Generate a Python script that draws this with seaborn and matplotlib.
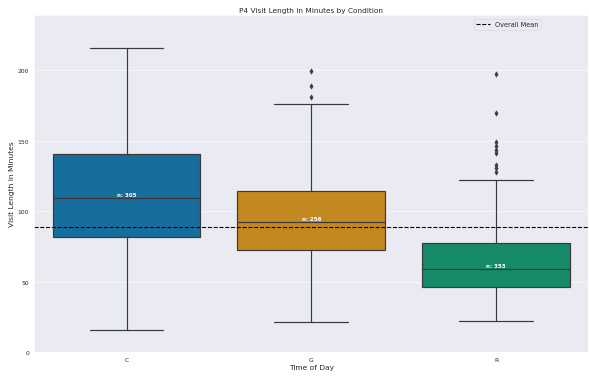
import matplotlib
matplotlib.use("Agg")
import matplotlib.pyplot as plt
import pandas as pd
import seaborn as sns

# Summary statistics of visit length (minutes) per condition
conditions = ["C", "G", "R"]
counts = [305, 256, 353]
whisker_low = [15.8, 21.3, 22.2]
q1 = [81.5, 72.7, 46.3]
medians = [109.3, 92.1, 58.8]
q3 = [140.3, 114.1, 77.2]
whisker_high = [215.6, 175.9, 122.3]
outliers_C = []
outliers_G = [180.7, 188.9, 199.3]
outliers_R = [128.0, 130.3, 132.7, 141.0, 143.5, 146.0, 148.8, 169.8, 197.4]
overall_mean = 89.0

outliers = [outliers_C, outliers_G, outliers_R]


def group_values(lo, a, m, b, hi, extra):
    # sorted sample of size 4k+1 whose quartiles land exactly on a, m, b
    k = 1 + len(extra)
    return [lo] + [a] * k + [m] * k + [b] * k + [hi] + list(extra)


rows = []
for i, cond in enumerate(conditions):
    for v in group_values(whisker_low[i], q1[i], medians[i], q3[i],
                          whisker_high[i], outliers[i]):
        rows.append({"Time of Day": cond, "Visit Length in Minutes": v})
df = pd.DataFrame(rows)

sns.set_theme(style="darkgrid", context="notebook")
fig, ax = plt.subplots(figsize=(15, 9.75), dpi=589 / 15)

sns.boxplot(data=df, x="Time of Day", y="Visit Length in Minutes",
            hue="Time of Day", palette="colorblind", legend=False,
            order=conditions, saturation=0.75, linecolor="#3a3a3a",
            linewidth=2.2, fliersize=7,
            flierprops={"marker": "d", "markerfacecolor": "#3a3a3a",
                        "markeredgecolor": "#3a3a3a"},
            ax=ax)

ax.axhline(overall_mean, color="black", linestyle="--", linewidth=2,
           label="Overall Mean")

for i, cond in enumerate(conditions):
    ax.text(i, medians[i] + 2.3, f"n: {counts[i]}", ha="center", va="center",
            color="white", fontsize=10, fontweight="bold")

ax.set_ylim(0, 239)
ax.set_yticks([0, 50, 100, 150, 200])
ax.set_title("P4 Visit Length in Minutes by Condition", fontsize=13.6)
ax.set_xlabel("Time of Day", fontsize=13.8)
ax.set_ylabel("Visit Length in Minutes", fontsize=13.8)
ax.tick_params(labelsize=11)
ax.legend(loc="upper right", bbox_to_anchor=(0.92, 1.0), fontsize=12)

fig.subplots_adjust(left=0.058, right=0.999, top=0.958, bottom=0.078)
fig.savefig("out.png", dpi=589 / 15)
